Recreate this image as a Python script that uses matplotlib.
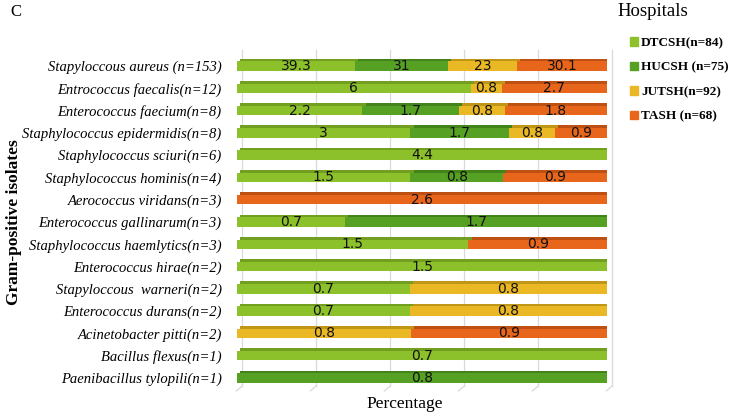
import matplotlib
matplotlib.use("Agg")
import matplotlib.pyplot as plt
import matplotlib.transforms as mtransforms
from matplotlib.lines import Line2D
import numpy as np

categories = [
    "Stapyloccous aureus (n=153)",
    "Entrococcus faecalis(n=12)",
    "Enterococcus faecium(n=8)",
    "Staphylococcus epidermidis(n=8)",
    "Staphylococcus sciuri(n=6)",
    "Staphylococcus hominis(n=4)",
    "Aerococcus viridans(n=3)",
    "Enterococcus gallinarum(n=3)",
    "Staphylococcus haemlytics(n=3)",
    "Enterococcus hirae(n=2)",
    "Stapyloccous  warneri(n=2)",
    "Enterococcus durans(n=2)",
    "Acinetobacter pitti(n=2)",
    "Bacillus flexus(n=1)",
    "Paenibacillus tylopili(n=1)",
]
hospitals = ["DTCSH(n=84)", "HUCSH (n=75)", "JUTSH(n=92)", "TASH (n=68)"]
dtcsh = [39.3, 6, 2.2, 3, 4.4, 1.5, 0, 0.7, 1.5, 1.5, 0.7, 0.7, 0, 0.7, 0]
hucsh = [31, 0, 1.7, 1.7, 0, 0.8, 0, 1.7, 0, 0, 0, 0, 0, 0, 0.8]
jutsh = [23, 0.8, 0.8, 0.8, 0, 0, 0, 0, 0, 0, 0.8, 0.8, 0.8, 0, 0]
tash = [30.1, 2.7, 1.8, 0.9, 0, 0.9, 2.6, 0, 0.9, 0, 0, 0, 0.9, 0, 0]

colors = ["#8DC12B", "#56A024", "#E9B824", "#E8661C"]
dark = ["#739F20", "#42841A", "#C09617", "#BE5013"]

W, H = 730, 415
fig = plt.figure(figsize=(W / 100, H / 100), dpi=100)
ax = fig.add_axes([237 / W, 1 - 386 / H, (607 - 237) / W, (386 - 50) / H])

series = [dtcsh, hucsh, jutsh, tash]
data = np.array(series, dtype=float)
totals = data.sum(axis=0)
y = np.arange(len(categories))
h = 0.42

ax.set_xlim(0, 1)
ax.set_ylim(len(categories) - 1 + 0.36, -0.72)

back = mtransforms.offset_copy(ax.transData, fig=fig, x=2.4, y=2.0, units="points")
left = np.zeros(len(categories))
for s, vals in enumerate(series):
    frac = np.array(vals) / totals
    ax.barh(y, frac, left=left, height=h, color=dark[s], transform=back, zorder=2, linewidth=0)
    ax.barh(y, frac, left=left, height=h, color=colors[s], zorder=3, linewidth=0,
            label=hospitals[s])
    for i, v in enumerate(vals):
        if v > 0:
            ax.text(left[i] + frac[i] / 2, y[i], f"{v:g}", ha="center", va="center",
                    fontsize=10, family="DejaVu Sans", color="#111111", zorder=5)
    left = left + frac

# gridlines (3D back wall style)
grid_tr = mtransforms.offset_copy(ax.transAxes, fig=fig, x=3.8, y=0, units="points")
for g in np.linspace(0, 1, 6):
    ax.plot([g, g], [0, 1], transform=grid_tr, color="#d9d9d9", lw=0.9, zorder=1,
            clip_on=False)
    p0 = grid_tr.transform((g, 0))
    p1 = p0 + np.array([-6, -5])
    fig.add_artist(Line2D([p0[0], p1[0]], [p0[1], p1[1]], transform=None,
                          color="#d9d9d9", lw=0.9))

for sp in ax.spines.values():
    sp.set_visible(False)
ax.set_xticks([])
ax.set_yticks(y)
ax.set_yticklabels(categories, fontsize=10.5, family="Liberation Serif", style="italic")
ax.tick_params(axis="y", length=0, pad=11)

fig.text(10 / W, 1 - 12 / H, "C", fontsize=12, family="Liberation Serif", va="center")
fig.text(14 / W, 1 - 222 / H, "Gram-positive isolates", fontsize=12.5, family="Liberation Serif",
         fontweight="bold", rotation=90, ha="center", va="center")
fig.text(405 / W, 1 - 404 / H, "Percentage", fontsize=12.5, family="Liberation Serif",
         ha="center", va="center")
fig.text(653 / W, 1 - 12 / H, "Hospitals", fontsize=13.5, family="Liberation Serif",
         ha="center", va="center")

handles = [plt.Rectangle((0, 0), 1, 1, color=c) for c in colors]
leg = fig.legend(handles, hospitals, loc="upper left", bbox_to_anchor=(630 / W, 1 - 37 / H),
                 frameon=False, prop={"family": "Liberation Serif", "weight": "bold", "size": 9.5},
                 handlelength=0.6, handleheight=0.6, handletextpad=0.25, labelspacing=0.95,
                 borderaxespad=0, borderpad=0)

fig.savefig("out.png", dpi=100)
